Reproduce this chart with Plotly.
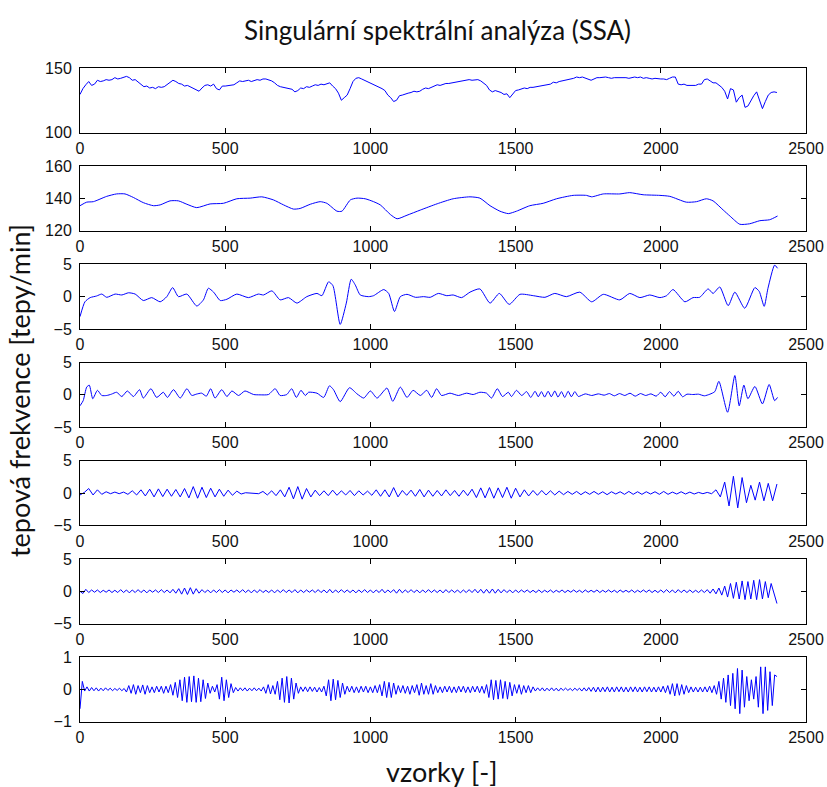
import plotly.graph_objects as go

# ---------------------------------------------------------------
# Heart rate record (2400 samples) and its SSA reconstruction
# ---------------------------------------------------------------

# raw heart rate, one value every 10 samples
raw_step = 10
raw_hr = [
    129.5, 134, 137, 139.5, 136.5, 137.5, 140.5, 139.5, 140, 141,
    140.5, 141, 142.5, 141.5, 142, 142.5, 143.5, 142.5, 140.5, 141,
    139, 137.5, 135.5, 136, 134.5, 135, 134, 135.5, 135, 135.5,
    137, 138.5, 140.5, 139.5, 138, 137.5, 136, 136.5, 135.5, 134,
    133.5, 132, 134.5, 136.5, 137, 136, 137.5, 134, 133, 136,
    136, 136.5, 136.5, 137, 138.5, 140, 139.5, 140, 140.5, 139.5,
    140.5, 141, 140.5, 141.5, 141.5, 141, 140, 138.5, 136.5, 135.5,
    135, 134.5, 134, 133.5, 131.5, 132.5, 134.5, 134, 135.5, 135,
    136, 137, 136.5, 137.5, 137, 138, 138.5, 136, 134, 130.5,
    125, 127, 129, 134, 139.5, 142, 142.5, 141.5, 140.5, 139.5,
    138, 137.5, 136.5, 135.5, 134, 132.5, 129, 127, 124, 125,
    128.5, 129, 130, 130.5, 131, 132, 131.5, 132, 133.5, 134.5,
    134, 135, 136, 137, 136.5, 137.5, 138, 138, 138.5, 139,
    139.5, 139.5, 140, 140.5, 141, 140.5, 141, 141, 140, 138,
    136.5, 133, 131.5, 132.5, 132, 131, 129.5, 130, 127, 129.5,
    132.5, 133, 134, 134.5, 134, 135, 135, 135.5, 135.5, 136,
    136.5, 137, 137.5, 139, 138.5, 139.5, 140, 140.5, 141, 141,
    142, 143, 142.5, 143, 142, 141, 140.5, 141.5, 142.5, 142.5,
    143, 143, 142.5, 142, 142.5, 142.5, 142.5, 143, 142.5, 142,
    142.5, 143, 142.5, 143, 142, 142.5, 142, 141.5, 142, 141.5,
    141.5, 141.5, 141, 142, 143, 143, 137.5, 137, 137.5, 136.5,
    136.5, 137, 136.5, 137.5, 137.5, 141, 141.5, 140, 138.5, 138.5,
    137, 135, 132, 126, 134, 133, 123.5, 127, 129, 119.5,
    120.5, 125, 128.5, 131.5, 124.5, 118.5, 124, 129, 131, 131.5,
    131,
]

# 1st component: slow trend
trend_x = [
    0, 23, 46, 92, 126, 155, 184, 218, 253, 276,
    310, 339, 368, 402, 448, 494, 540, 586, 626, 666,
    701, 735, 758, 793, 827, 850, 885, 902, 931, 954,
    982, 1011, 1034, 1069, 1092, 1126, 1172, 1230, 1285, 1343,
    1377, 1412, 1446, 1475, 1503, 1549, 1595, 1641, 1698, 1744,
    1762, 1802, 1859, 1893, 1939, 1997, 2031, 2088, 2123, 2157,
    2180, 2215, 2238, 2272, 2306, 2341, 2375, 2402,
]
trend_y = [
    135.5, 137.7, 138, 141.3, 142.8, 142.8, 140.6, 137.4, 135.5, 136,
    138.5, 138.5, 136.4, 134.3, 136.6, 137, 139.8, 140.2, 141, 139.1,
    136, 133.4, 133.8, 136.4, 138, 137, 132.1, 132.1, 139.1, 140.2,
    139.8, 138, 136, 130, 127.4, 129.6, 132.8, 136.7, 139.8, 141,
    140.2, 135.5, 132.1, 130.6, 132.1, 135.5, 137, 139.8, 141.9, 141.9,
    141, 142.8, 142.8, 143.6, 142.3, 141.9, 141.3, 137.7, 138, 139.8,
    138.5, 132.8, 129.1, 124, 124.3, 126.2, 126.8, 129.1,
]

# 2nd component: low-frequency oscillation
comp2_x = [
    0, 17, 35, 57, 75, 92, 121, 144, 167, 190,
    218, 247, 276, 299, 319, 339, 368, 402, 425, 442,
    460, 483, 506, 540, 580, 614, 632, 661, 689, 718,
    747, 781, 816, 833, 856, 871, 896, 917, 934, 948,
    965, 994, 1011, 1046, 1063, 1083, 1103, 1126, 1155, 1183,
    1206, 1234, 1263, 1285, 1314, 1343, 1377, 1412, 1444, 1478,
    1515, 1561, 1601, 1635, 1675, 1721, 1762, 1802, 1859, 1893,
    1928, 1962, 1997, 2020, 2042, 2083, 2111, 2134, 2163, 2180,
    2203, 2232, 2255, 2289, 2324, 2339, 2356, 2369, 2392, 2402,
]
comp2_y = [
    -3.1, -0.8, -0.15, 0.1, 0.4, -0.1, 0.4, 0.26, 0.6, 0.4,
    -0.6, -0.15, -0.8, 0, 1.4, 0, 0.4, -1.45, -0.5, 1.3,
    0.7, -0.6, -0.4, 0.4, -0.15, 0.4, 0.26, 0.9, -0.5, -0.15,
    -1.0, 0, 0.5, 0.15, 2.3, 1.7, -4.3, -1.0, 2.7, 1.8,
    0.26, 0, 0.15, 1.1, 0.5, -2.3, 0, 0.36, -0.1, 0,
    -0.1, 0.5, 0.15, 0.26, -0.15, 0.7, 1.2, -1.0, 0.5, -1.2,
    0.36, 0.15, -0.1, 0.5, 0, 0.7, -0.8, 0.36, -0.5, 0.5,
    -0.15, 0.26, -0.15, 0.15, 1.1, -0.8, -0.15, -0.1, 1.2, 0.5,
    1.5, -1.4, 0.7, -1.8, 1.4, 0.8, -1.5, 1.3, 4.9, 4.4,
]

# 3rd component
comp3_x = [
    0, 11, 23, 32, 44, 60, 75, 92, 108, 126,
    144, 163, 184, 205, 218, 244, 264, 287, 301, 322,
    345, 368, 385, 400, 419, 435, 450, 465, 488, 506,
    523, 546, 568, 598, 620, 649, 672, 689, 712, 729,
    745, 761, 776, 787, 816, 839, 859, 873, 896, 928,
    954, 977, 1000, 1023, 1057, 1077, 1103, 1126, 1147, 1172,
    1194, 1211, 1228, 1245, 1274, 1303, 1331, 1354, 1377, 1400,
    1417, 1437, 1455, 1475, 1486, 1503, 1521, 1538, 1552, 1567,
    1578, 1589, 1600, 1612, 1623, 1635, 1646, 1658, 1669, 1681,
    1692, 1704, 1716, 1740, 1762, 1785, 1805, 1823, 1840, 1858,
    1876, 1894, 1912, 1930, 1948, 1966, 1984, 2000, 2015, 2030,
    2045, 2060, 2075, 2090, 2110, 2130, 2150, 2169, 2186, 2200,
    2230, 2255, 2270, 2286, 2300, 2324, 2350, 2373, 2392, 2402,
]
comp3_y = [
    -1.7, -0.9, 1.2, 1.5, -0.6, 0.7, -0.1, -0.1, 0.1, 0.4,
    -0.26, 0.6, -0.26, 0.8, -0.5, 0.95, -0.4, 0.4, -0.4, 0.8,
    -0.5, 0.95, -0.1, 0.1, 0.26, -0.2, 0.95, -0.5, 0.8, -0.26,
    0.6, -0.1, 0.6, 0.05, 0.0, 0.05, 0.95, -0.1, 0.05, 0.95,
    -0.4, 0.7, -0.1, 0.4, 0.26, -0.4, 1.4, 0.8, -1.05, 1.1,
    0.15, -0.5, 0.6, -0.5, 1.05, -1.0, 1.2, -0.4, 0.7, -0.1,
    0.7, -0.4, 0.95, -0.1, 0.26, -0.1, 0.26, 0.05, 0.4, 0.26,
    -0.5, 0.95, -0.26, 0.4, -0.26, 0.7, -0.1, 0.5, -0.4, 0.55,
    -0.3, 0.5, -0.35, 0.55, -0.3, 0.6, -0.35, 0.5, -0.4, 0.55,
    -0.3, 0.5, -0.25, 0.15, -0.1, 0.15, -0.05, 0.2, -0.15, 0.2,
    -0.1, 0.25, -0.2, 0.2, -0.1, 0.15, -0.2, 0.4, -0.3, 0.5,
    -0.2, 0.55, -0.3, 0.1, 0.05, 0.1, -0.15, 0.1, 0.5, 2.1,
    -2.7, 3.0, -1.7, 1.5, -0.6, 1.3, -1.4, 1.6, -0.9, -0.4,
]

# 4th component, one value every 15 samples
comp4_step = 15
comp4 = [
    -0.3, 0.1, 0.7, -0.3, 0.5, -0.2, 0.2, -0.1, 0.15, -0.1,
    0.15, -0.2, 0.35, -0.3, 0.5, -0.45, 0.6, -0.6, 0.65, -0.55,
    0.6, -0.5, 0.55, -0.6, 0.7, -0.75, 1.0, -0.8, 0.9, -0.7,
    0.75, -0.6, 0.6, -0.5, 0.45, -0.35, 0.3, -0.15, 0.05, 0.0,
    0.05, -0.1, 0.25, -0.3, 0.35, -0.4, 0.5, -0.6, 0.9, -0.9,
    1.0, -0.95, 0.7, -0.6, 0.45, -0.4, 0.35, -0.4, 0.45, -0.35,
    0.35, -0.3, 0.4, -0.4, 0.35, -0.3, 0.3, -0.35, 0.5, -0.5,
    0.5, -0.6, 0.85, -0.6, 0.4, -0.35, 0.45, -0.5, 0.55, -0.6,
    0.45, -0.5, 0.4, -0.45, 0.5, -0.4, 0.4, -0.5, 0.45, -0.4,
    0.6, -0.7, 0.8, -0.75, 0.85, -0.8, 0.8, -0.7, 0.9, -0.8,
    0.75, -0.6, 0.5, -0.45, 0.4, -0.35, 0.4, -0.3, 0.35, -0.3,
    0.3, -0.25, 0.25, -0.2, 0.25, -0.25, 0.2, -0.2, 0.25, -0.2,
    0.2, -0.25, 0.2, -0.15, 0.2, -0.2, 0.25, -0.2, 0.2, -0.2,
    0.2, -0.15, 0.2, -0.2, 0.25, -0.2, 0.15, -0.15, 0.2, -0.15,
    0.15, -0.15, 0.1, -0.1, 0.1, -0.1, 0.5, -0.6, 1.7, -2.0,
    2.6, -2.3, 2.4, -1.5, 1.2, -1.1, 1.7, -1.2, 1.5, -1.2,
    1.4,
]

# 5th component, one value every 10 samples
comp5_step = 10
comp5 = [
    0.0, -0.35, 0.3, -0.2, 0.2, -0.15, 0.2, -0.2, 0.15, -0.15,
    0.2, -0.2, 0.15, -0.2, 0.25, -0.2, 0.2, -0.25, 0.2, -0.2,
    0.25, -0.2, 0.2, -0.25, 0.2, -0.15, 0.2, -0.2, 0.25, -0.2,
    0.2, -0.25, 0.3, -0.3, 0.4, -0.45, 0.5, -0.5, 0.55, -0.45,
    0.4, -0.3, 0.25, -0.2, 0.2, -0.25, 0.2, -0.2, 0.25, -0.2,
    0.2, -0.25, 0.2, -0.15, 0.2, -0.2, 0.25, -0.2, 0.2, -0.25,
    0.2, -0.2, 0.25, -0.2, 0.15, -0.2, 0.2, -0.25, 0.2, -0.2,
    0.25, -0.2, 0.2, -0.2, 0.25, -0.25, 0.2, -0.2, 0.2, -0.15,
    0.2, -0.2, 0.25, -0.2, 0.2, -0.25, 0.3, -0.25, 0.2, -0.2,
    0.25, -0.2, 0.2, -0.2, 0.2, -0.25, 0.2, -0.2, 0.25, -0.2,
    0.2, -0.25, 0.2, -0.2, 0.3, -0.25, 0.2, -0.2, 0.25, -0.3,
    0.3, -0.25, 0.2, -0.2, 0.25, -0.2, 0.2, -0.25, 0.2, -0.2,
    0.25, -0.2, 0.2, -0.2, 0.2, -0.25, 0.25, -0.2, 0.2, -0.2,
    0.2, -0.25, 0.2, -0.2, 0.25, -0.2, 0.3, -0.25, 0.3, -0.3,
    0.3, -0.3, 0.35, -0.3, 0.3, -0.25, 0.25, -0.2, 0.2, -0.25,
    0.2, -0.2, 0.2, -0.15, 0.2, -0.2, 0.15, -0.2, 0.2, -0.2,
    0.15, -0.15, 0.2, -0.2, 0.15, -0.15, 0.2, -0.2, 0.15, -0.15,
    0.2, -0.15, 0.15, -0.2, 0.2, -0.15, 0.15, -0.15, 0.2, -0.2,
    0.15, -0.15, 0.2, -0.15, 0.15, -0.2, 0.2, -0.15, 0.15, -0.15,
    0.2, -0.2, 0.15, -0.15, 0.2, -0.15, 0.2, -0.2, 0.15, -0.2,
    0.2, -0.2, 0.25, -0.2, 0.2, -0.25, 0.25, -0.2, 0.2, -0.2,
    0.2, -0.2, 0.15, -0.2, 0.2, -0.2, 0.25, -0.3, 0.35, -0.4,
    0.5, -0.6, 0.8, -0.9, 1.2, -1.1, 1.4, -1.2, 1.6, -1.3,
    1.5, -1.2, 1.7, -1.3, 1.8, -1.2, 1.5, -1.0, 1.2, -0.5,
    -1.9,
]

# 6th component, one value every 8 samples
comp6_step = 8
comp6 = [
    -0.6, 0.25, -0.05, 0.08, -0.05, 0.06, -0.04, 0.05, -0.05, 0.04,
    -0.04, 0.05, -0.03, 0.04, -0.04, 0.03, -0.03, 0.04, -0.04, 0.03,
    -0.08, 0.12, -0.12, 0.15, -0.15, 0.12, -0.1, 0.14, -0.15, 0.12,
    -0.1, 0.08, -0.1, 0.1, -0.08, 0.1, -0.12, 0.1, -0.1, 0.15,
    -0.18, 0.22, -0.25, 0.3, -0.35, 0.38, -0.4, 0.4, -0.38, 0.42,
    -0.4, 0.35, -0.38, 0.3, -0.28, 0.2, -0.12, 0.1, -0.08, 0.15,
    -0.3, 0.38, -0.35, 0.3, -0.25, 0.18, -0.1, 0.06, -0.05, 0.05,
    -0.04, 0.05, -0.05, 0.04, -0.04, 0.05, -0.04, 0.04, -0.05, 0.08,
    -0.12, 0.15, -0.14, 0.12, -0.15, 0.25, -0.32, 0.35, -0.4, 0.4,
    -0.42, 0.35, -0.3, 0.2, -0.12, 0.08, -0.06, 0.08, -0.07, 0.08,
    -0.06, 0.07, -0.08, 0.06, -0.08, 0.1, -0.2, 0.3, -0.35, 0.32,
    -0.32, 0.28, -0.25, 0.2, -0.15, 0.1, -0.08, 0.1, -0.1, 0.08,
    -0.1, 0.1, -0.08, 0.1, -0.1, 0.08, -0.1, 0.12, -0.1, 0.15,
    -0.2, 0.25, -0.25, 0.22, -0.25, 0.2, -0.15, 0.12, -0.1, 0.12,
    -0.12, 0.1, -0.15, 0.12, -0.1, 0.15, -0.18, 0.2, -0.15, 0.12,
    -0.15, 0.18, -0.15, 0.12, -0.1, 0.08, -0.1, 0.1, -0.08, 0.1,
    -0.1, 0.08, -0.1, 0.1, -0.08, 0.1, -0.1, 0.08, -0.1, 0.1,
    -0.08, 0.1, -0.1, 0.1, -0.12, 0.15, -0.25, 0.3, -0.32, 0.28,
    -0.3, 0.3, -0.28, 0.25, -0.3, 0.22, -0.2, 0.15, -0.12, 0.15,
    -0.15, 0.12, -0.1, 0.12, -0.1, 0.08, -0.05, 0.05, -0.04, 0.05,
    -0.05, 0.04, -0.04, 0.05, -0.04, 0.04, -0.05, 0.04, -0.03, 0.04,
    -0.03, 0.03, -0.04, 0.04, -0.03, 0.04, -0.05, 0.05, -0.05, 0.06,
    -0.06, 0.07, -0.08, 0.07, -0.08, 0.07, -0.07, 0.08, -0.08, 0.07,
    -0.08, 0.08, -0.07, 0.08, -0.08, 0.07, -0.08, 0.08, -0.07, 0.08,
    -0.08, 0.07, -0.08, 0.08, -0.07, 0.08, -0.08, 0.07, -0.08, 0.08,
    -0.08, 0.1, -0.1, 0.12, -0.15, 0.18, -0.2, 0.18, -0.18, 0.15,
    -0.15, 0.12, -0.1, 0.08, -0.08, 0.07, -0.08, 0.07, -0.08, 0.08,
    -0.08, 0.1, -0.1, 0.12, -0.15, 0.25, -0.3, 0.35, -0.4, 0.45,
    -0.5, 0.5, -0.6, 0.65, -0.75, 0.6, -0.55, 0.4, -0.35, 0.3,
    -0.3, 0.4, -0.55, 0.7, -0.75, 0.7, -0.65, 0.55, -0.5, 0.45,
    0.4,
]

# axis ranges and ticks per panel
y_ranges = [[100, 150], [120, 160], [-5, 5], [-5, 5], [-5, 5], [-5, 5], [-1, 1]]
y_ticks = [[100, 150], [120, 140, 160], [-5, 0, 5], [-5, 0, 5], [-5, 0, 5], [-5, 0, 5], [-1, 0, 1]]
x_ticks = [0, 500, 1000, 1500, 2000, 2500]

title_text = "Singulární spektrální analýza (SSA)"
ylabel_text = "tepová frekvence [tepy/min]"
xlabel_text = "vzorky [-]"


def sample_axis(step, n):
    return [i * step for i in range(n)]


series = [
    (sample_axis(raw_step, len(raw_hr)), raw_hr, "linear"),
    (trend_x, trend_y, "spline"),
    (comp2_x, comp2_y, "spline"),
    (comp3_x, comp3_y, "spline"),
    (sample_axis(comp4_step, len(comp4)), comp4, "linear"),
    (sample_axis(comp5_step, len(comp5)), comp5, "linear"),
    (sample_axis(comp6_step, len(comp6)), comp6, "linear"),
]

# page geometry (pixels)
W, H = 827, 787
LEFT, RIGHT = 80, 806
TOP, BOTTOM = 68, 723
PITCH = 98.2
PANEL_H = 64.5
plot_h = BOTTOM - TOP
plot_w = RIGHT - LEFT

fig = go.Figure()
tick_font = dict(family="Liberation Sans, Arial, sans-serif", size=16, color="#111")

for k, (xs, ys, shape) in enumerate(series):
    idx = "" if k == 0 else str(k + 1)
    fig.add_trace(go.Scatter(
        x=xs, y=ys, mode="lines",
        line=dict(color="#0000FF", width=1, shape=shape, smoothing=0.6),
        xaxis="x" + idx, yaxis="y" + idx, showlegend=False, hoverinfo="skip",
    ))
    top = TOP + k * PITCH
    bot = top + PANEL_H
    dom = [(BOTTOM - bot) / plot_h, (BOTTOM - top) / plot_h]
    axis_common = dict(
        showline=True, linecolor="black", linewidth=1, mirror="ticks",
        ticks="inside", ticklen=5, tickwidth=1, tickcolor="black",
        showgrid=False, zeroline=False, tickfont=tick_font, automargin=False,
    )
    fig.layout["xaxis" + idx] = dict(
        domain=[0, 1], range=[0, 2500], tickvals=x_ticks,
        anchor="y" + idx, ticklabelstandoff=1, **axis_common,
    )
    fig.layout["yaxis" + idx] = dict(
        domain=dom, range=y_ranges[k], tickvals=y_ticks[k],
        anchor="x" + idx, ticklabelstandoff=4, **axis_common,
    )

label_font = "Lato, Open Sans, sans-serif"
fig.add_annotation(
    text=title_text, xref="paper", yref="paper",
    x=(437 - LEFT) / plot_w, y=(BOTTOM - 30) / plot_h,
    xanchor="center", yanchor="middle", showarrow=False,
    font=dict(family=label_font, size=26, color="#111"),
)
fig.add_annotation(
    text=ylabel_text, xref="paper", yref="paper",
    x=(19 - LEFT) / plot_w, y=(BOTTOM - 391) / plot_h,
    xanchor="center", yanchor="middle", textangle=-90, showarrow=False,
    font=dict(family=label_font, size=27, color="#111"),
)
fig.add_annotation(
    text=xlabel_text, xref="paper", yref="paper",
    x=(441 - LEFT) / plot_w, y=(BOTTOM - 771) / plot_h,
    xanchor="center", yanchor="middle", showarrow=False,
    font=dict(family=label_font, size=27, color="#111"),
)

fig.update_layout(
    width=W, height=H,
    margin=dict(l=LEFT, r=W - RIGHT, t=TOP, b=H - BOTTOM, pad=0, autoexpand=False),
    paper_bgcolor="white", plot_bgcolor="white",
)

fig.write_html("out.html")
